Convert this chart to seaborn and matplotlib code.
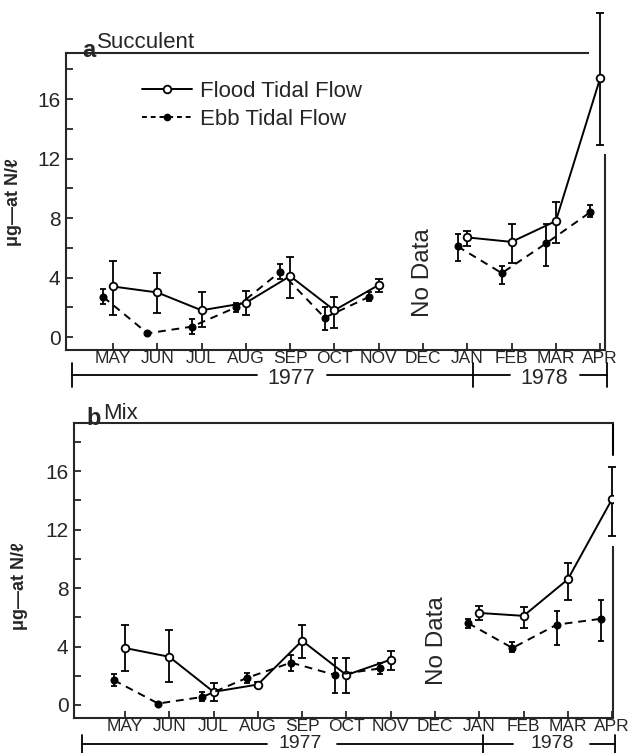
import numpy as np
import pandas as pd
import matplotlib
matplotlib.use("Agg")
import matplotlib.pyplot as plt
from matplotlib.lines import Line2D
import seaborn as sns

months = ["MAY", "JUN", "JUL", "AUG", "SEP", "OCT", "NOV", "DEC", "JAN", "FEB", "MAR", "APR"]
nan = np.nan

# panel a - Succulent
flood_a = [3.4, 3.0, 1.8, 2.3, 4.1, 1.8, 3.5, nan, 6.7, 6.4, 7.8, 17.4]
flood_a_lo = [1.5, 1.6, 0.7, 1.5, 2.6, 0.6, 3.0, nan, 6.1, 5.0, 6.3, 12.9]
flood_a_hi = [5.1, 4.3, 3.0, 3.1, 5.4, 2.7, 3.9, nan, 7.1, 7.6, 9.1, 21.8]
ebb_a = [2.7, 0.25, 0.7, 2.0, 4.4, 1.3, 2.7, nan, 6.1, 4.3, 6.3, 8.4]
ebb_a_lo = [2.2, 0.15, 0.2, 1.7, 3.9, 0.5, 2.4, nan, 5.1, 3.6, 4.8, 8.1]
ebb_a_hi = [3.2, 0.35, 1.2, 2.3, 4.9, 2.0, 3.0, nan, 6.9, 4.8, 7.6, 8.9]

# panel b - Mix
flood_b = [3.9, 3.3, 0.9, 1.4, 4.4, 2.05, 3.1, nan, 6.3, 6.1, 8.6, 14.1]
flood_b_lo = [2.3, 1.6, 0.3, 1.2, 3.2, 0.8, 2.4, nan, 5.8, 5.3, 7.2, 11.6]
flood_b_hi = [5.5, 5.1, 1.5, 1.6, 5.5, 3.2, 3.7, nan, 6.8, 6.7, 9.7, 16.3]
ebb_b = [1.7, 0.1, 0.55, 1.85, 2.9, 2.05, 2.5, nan, 5.6, 3.9, 5.5, 5.9]
ebb_b_lo = [1.3, 0.05, 0.3, 1.5, 2.3, 0.8, 2.1, nan, 5.3, 3.6, 4.1, 4.4]
ebb_b_hi = [2.1, 0.15, 0.9, 2.2, 3.4, 3.2, 2.9, nan, 5.9, 4.3, 6.4, 7.2]

series_names = ["Flood Tidal Flow", "Ebb Tidal Flow"]
years = ["1977", "1978"]

sns.set_theme(style="ticks")
plt.rcParams["font.family"] = ["Liberation Sans", "DejaVu Sans"]
plt.rcParams["axes.linewidth"] = 1.5


def make_frame(vals, lo, hi, offset):
    df = pd.DataFrame({"x": np.arange(len(months)) + offset, "val": vals, "lo": lo, "hi": hi})
    df["seg"] = np.where(np.arange(len(months)) < 7, 0, 1)
    return df.dropna()


def draw_series(ax, df, filled, dashed):
    ax.errorbar(df["x"], df["val"], yerr=[df["val"] - df["lo"], df["hi"] - df["val"]],
                fmt="none", ecolor="black", elinewidth=1.3,
                capsize=2.8 if not filled else 2.0, capthick=1.3, zorder=2)
    for art in ax.containers[-1].get_children():
        art.set_clip_on(False)
    sns.lineplot(data=df, x="x", y="val", units="seg", estimator=None, ax=ax,
                 color="black", lw=1.4, linestyle=(0, (4, 3)) if dashed else "-",
                 marker="o", markersize=4.5 if filled else 5.5,
                 markerfacecolor="black" if filled else "white",
                 markeredgecolor="black", markeredgewidth=1.3, zorder=3)


def style_axes(ax, xlim, ylim):
    ax.set_xlim(*xlim)
    ax.set_ylim(*ylim)
    ax.set_xticks(range(len(months)))
    ax.set_xticklabels(months, fontsize=12.5)
    ax.set_yticks([0, 4, 8, 12, 16])
    ax.set_yticks([2, 6, 10, 14, 18], minor=True)
    ax.tick_params(axis="y", which="major", direction="in", length=5, width=1.3,
                   labelsize=15, pad=4)
    ax.tick_params(axis="y", which="minor", direction="in", length=5, width=1.3)
    ax.tick_params(axis="x", direction="in", length=5, width=1.3, pad=1)
    ax.set_xlabel("")
    ax.set_ylabel("μg—at N/ℓ", fontsize=13, fontweight="bold")
    ax.grid(False)


def draw_years(ax, y_line, y_tick, tick_xs, segs, label_xs, y_text, size):
    tr = ax.get_xaxis_transform()
    for x0, x1 in segs:
        ax.plot([x0, x1], [y_line, y_line], color="black", lw=1.3, transform=tr, clip_on=False)
    for xt in tick_xs:
        ax.plot([xt, xt], y_tick, color="black", lw=1.3, transform=tr, clip_on=False)
    for lbl, xl in zip(years, label_xs):
        ax.text(xl, y_text, lbl, transform=tr, ha="center", va="center", fontsize=size)


fig = plt.figure(figsize=(6.36, 7.53), dpi=100)
ax_a = fig.add_axes([66 / 636, 1 - 350 / 753, 539 / 636, 297 / 753])
ax_b = fig.add_axes([74 / 636, 1 - 718 / 753, 539 / 636, 295 / 753])

# ---- panel a
draw_series(ax_a, make_frame(flood_a, flood_a_lo, flood_a_hi, 0.0), filled=False, dashed=False)
draw_series(ax_a, make_frame(ebb_a, ebb_a_lo, ebb_a_hi, -0.22), filled=True, dashed=True)
style_axes(ax_a, (-1.06, 11.11), (-0.87, 19.1))
ax_a.spines["top"].set_bounds(-1.06, 10.73)
ax_a.spines["right"].set_bounds(-0.87, 12.24)
ax_a.yaxis.set_label_coords(-0.082, 0.498)
ax_a.text(7, 4.3, "No Data", rotation=90, ha="center", va="center", fontsize=17.5)
ax_a.text(0.03, 0.987, "a", transform=ax_a.transAxes, fontsize=17, fontweight="bold", va="baseline")
ax_a.text(0.0575, 1.017, "Succulent", transform=ax_a.transAxes, fontsize=16, va="baseline")
handles = [
    Line2D([], [], color="black", lw=1.4, marker="o", ms=5.5, mfc="white", mec="black", mew=1.3),
    Line2D([], [], color="black", lw=1.4, linestyle=(0, (2.5, 2)), marker="o", ms=4.5,
           mfc="black", mec="black"),
]
ax_a.legend(handles, series_names, loc="upper left", bbox_to_anchor=(0.141, 0.905),
            frameon=False, fontsize=16, handlelength=2.25, handletextpad=0.35,
            labelspacing=0.3, borderpad=0, borderaxespad=0)
draw_years(ax_a, -0.084, (-0.044, -0.125), [-0.93, 8.13, 11.16],
           [(-0.93, 3.25), (4.83, 8.97), (10.55, 11.16)], [4.02, 9.74], -0.097, 15.5)

# ---- panel b
draw_series(ax_b, make_frame(flood_b, flood_b_lo, flood_b_hi, 0.0), filled=False, dashed=False)
draw_series(ax_b, make_frame(ebb_b, ebb_b_lo, ebb_b_hi, -0.25), filled=True, dashed=True)
style_axes(ax_b, (-1.15, 11.02), (-0.89, 19.3))
ax_b.spines["right"].set_bounds(-0.89, 10.8)
ax_b.axvline(11.02, ymin=(17.1 + 0.89) / (19.3 + 0.89), ymax=1, color="black", lw=1.5, clip_on=False)
ax_b.yaxis.set_label_coords(-0.085, 0.447)
ax_b.text(7.04, 4.4, "No Data", rotation=90, ha="center", va="center", fontsize=17.5)
ax_b.text(0.024, 0.993, "b", transform=ax_b.transAxes, fontsize=17, fontweight="bold", va="baseline")
ax_b.text(0.054, 1.0136, "Mix", transform=ax_b.transAxes, fontsize=16, va="baseline")
draw_years(ax_b, -0.088, (-0.058, -0.119), [-0.97, 8.08, 11.07],
           [(-0.97, 3.21), (4.79, 8.76), (10.5, 11.07)], [3.95, 9.64], -0.088, 14)

fig.savefig("out.png", dpi=100)
plt.close(fig)
